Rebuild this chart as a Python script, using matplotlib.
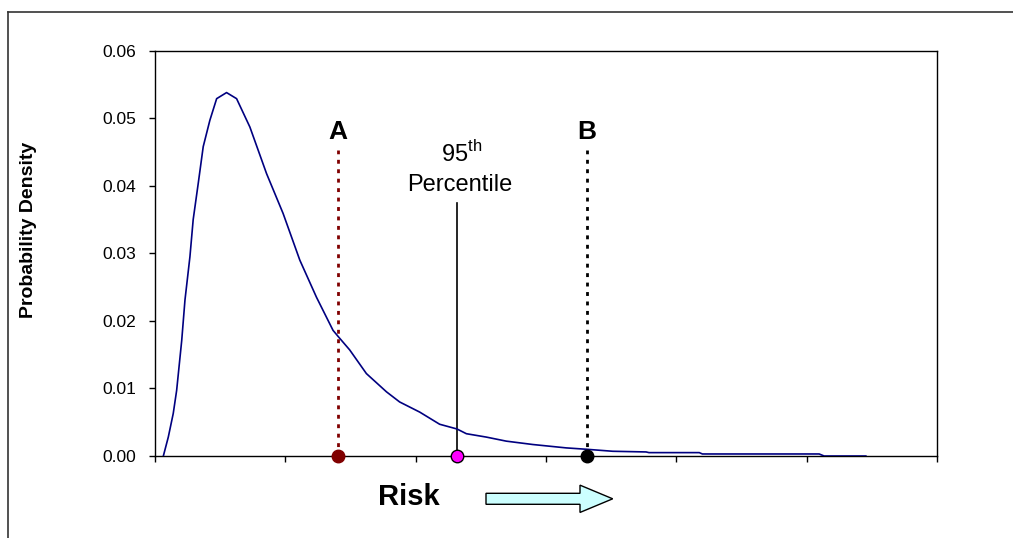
import matplotlib
matplotlib.use("Agg")
import matplotlib.pyplot as plt
from matplotlib.lines import Line2D
from matplotlib.patches import FancyArrow

plt.rcParams['font.family'] = ['Liberation Sans', 'DejaVu Sans']
plt.rcParams['mathtext.fontset'] = 'custom'
plt.rcParams['mathtext.rm'] = 'Liberation Sans'

# density curve
risk = [0.064, 0.102, 0.140, 0.166, 0.205, 0.230, 0.268, 0.293, 0.332, 0.370,
        0.421, 0.473, 0.549, 0.626, 0.728, 0.856, 0.983, 1.111, 1.239, 1.366,
        1.405, 1.494, 1.622, 1.776, 1.877, 2.031, 2.184, 2.317, 2.389, 2.542,
        2.695, 2.899, 3.155, 3.308, 3.512, 3.768, 3.790, 4.176, 4.200, 5.096,
        5.134, 5.454]
density = [0.0000, 0.0028, 0.0063, 0.0097, 0.0171, 0.0231, 0.0295, 0.0350, 0.0404, 0.0458,
           0.0497, 0.0529, 0.0538, 0.0529, 0.0487, 0.0418, 0.0359, 0.0290, 0.0235, 0.0186,
           0.0177, 0.0157, 0.0122, 0.0095, 0.0080, 0.0065, 0.0047, 0.0040, 0.0033, 0.0028,
           0.0022, 0.0017, 0.0012, 0.0010, 0.0007, 0.0006, 0.0005, 0.0005, 0.0003, 0.0003,
           0.0000, 0.0000]

# marked positions
point_a = 1.405
point_95 = 2.32
point_b = 3.313
marker_top = 0.0453
pct_top = 0.0375

yticks = [0.00, 0.01, 0.02, 0.03, 0.04, 0.05, 0.06]
xticks = [0, 1, 2, 3, 4, 5, 6]

fig = plt.figure(figsize=(10.13, 5.38), dpi=100)
ax = fig.add_axes([155/1013, 1 - 456/538, 782/1013, 405.3/538])

ax.plot(risk, density, color='#000080', lw=1.2, zorder=3)

# vertical markers
dot = (0, (1.4, 2))
ax.plot([point_a, point_a], [0, marker_top], color='#800000', lw=2, linestyle=dot)
ax.plot([point_b, point_b], [0, marker_top], color='black', lw=2, linestyle=dot)
ax.plot([point_95, point_95], [0, pct_top], color='black', lw=1.2)

ax.plot([point_a], [0], 'o', ms=9, color='#800000', mec='#800000', clip_on=False, zorder=5)
ax.plot([point_95], [0], 'o', ms=9, color='#FF00FF', mec='black', mew=1, clip_on=False, zorder=5)
ax.plot([point_b], [0], 'o', ms=9, color='black', clip_on=False, zorder=5)

ax.text(point_a, 0.0470, 'A', ha='center', va='baseline', fontsize=19, fontweight='bold')
ax.text(point_b, 0.0470, 'B', ha='center', va='baseline', fontsize=19, fontweight='bold')
ax.text(2.35, 0.0436, r'95$^{\mathrm{th}}$', ha='center', va='baseline', fontsize=17)
ax.text(2.335, 0.0392, 'Percentile', ha='center', va='baseline', fontsize=17)

ax.set_xlim(0, 6)
ax.set_ylim(0, 0.06)
ax.set_xticks(xticks)
ax.set_xticklabels([])
ax.set_yticks(yticks)
ax.set_yticklabels(['{0:.2f}'.format(v) for v in yticks])
ax.tick_params(direction='out', length=4.3, width=1, labelsize=12.5, pad=9, colors='black')
for s in ax.spines.values():
    s.set_linewidth(1)
    s.set_color('black')

ax.set_ylabel('Probability Density', fontsize=14, fontweight='bold')
ax.yaxis.set_label_coords((37 - 155) / 782, (456 - 230) / 405.3)

fig.text(409/1013, 1 - 505/538, 'Risk', ha='center', va='baseline', fontsize=21, fontweight='bold')

arrow = FancyArrow(486/1013, 1 - 498.8/538, 126.7/1013, 0, width=11/538,
                   head_width=27.3/538, head_length=32.7/1013, length_includes_head=True,
                   facecolor='#CCFFFF', edgecolor='black', lw=1, transform=fig.transFigure)
fig.add_artist(arrow)

# outer chart frame
fig.add_artist(Line2D([8/1013, 1.0], [1 - 11.7/538, 1 - 11.7/538], color='#333333', lw=1.2,
                      transform=fig.transFigure))
fig.add_artist(Line2D([8/1013, 8/1013], [0, 1 - 11.7/538], color='#333333', lw=1.2,
                      transform=fig.transFigure))

fig.savefig('out.png', dpi=100)
